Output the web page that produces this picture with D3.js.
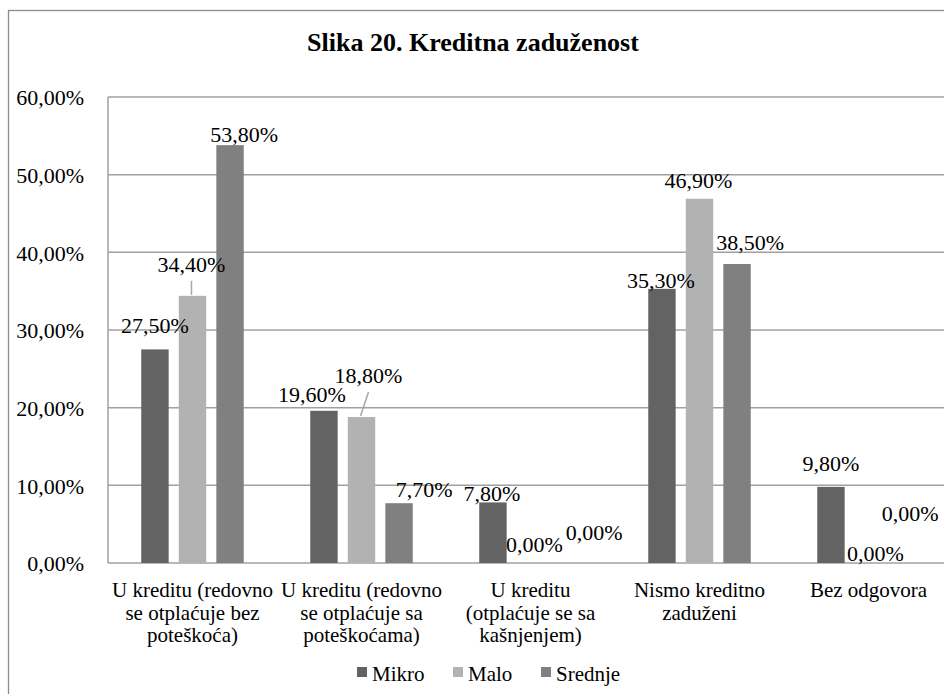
<!DOCTYPE html>
<html>
<head>
<meta charset="utf-8">
<script src="https://cdn.jsdelivr.net/npm/d3@7/dist/d3.min.js"></script>
<style>
  body { margin: 0; background: #fff; }
  svg { display: block; font-family: "Liberation Serif", "Times New Roman", serif; }
</style>
</head>
<body>
<svg id="chart" width="944" height="694"></svg>
<script>
// data
var categories = [
	["U kreditu (redovno", "se otplaćuje bez", "poteškoća)"],
	["U kreditu (redovno", "se otplaćuje sa", "poteškoćama)"],
	["U kreditu", "(otplaćuje se sa", "kašnjenjem)"],
	["Nismo kreditno", "zaduženi"],
	["Bez odgovora"]
];
var series = ["Mikro", "Malo", "Srednje"];
var mikro = [27.5, 19.6, 7.8, 35.3, 9.8];
var malo = [34.4, 18.8, 0.0, 46.9, 0.0];
var srednje = [53.8, 7.7, 0.0, 38.5, 0.0];
var yTicks = [0, 10, 20, 30, 40, 50, 60];

var values = [mikro, malo, srednje];
var colors = ["#636363", "#b2b2b2", "#808080"];

// label nudges (the labels were dragged by hand in the original)
var labelDx = [
	[0, -12, -1, -1, 0],
	[-1, 7, 4, -1, 7],
	[14, 25, 26, 13, 4]
];
var labelDy = [
	[-16, -9, -1, -1, -16],
	[-24, -34, -11, -11, -2],
	[-3, -6, -23, -14, -42]
];
var leader = [
	[false, false, false, false, false],
	[true, true, false, false, false],
	[false, false, false, false, false]
];

var svg = d3.select('#chart');
var plotLeft = 108, plotTop = 97, plotBottom = 563, step = 169;

var x0 = d3.scaleBand()
	.domain(d3.range(categories.length))
	.range([plotLeft, plotLeft + step * categories.length]);
var x1 = d3.scaleBand()
	.domain(d3.range(series.length))
	.range([-51.25, 51.25])
	.paddingInner(0.27);
var y = d3.scaleLinear().domain([0, 60]).range([plotBottom, plotTop]);

function fmt(v){ return v.toFixed(2).replace('.', ',') + '%'; }

// outer border
svg.append('rect')
	.attr('x', 8.5).attr('y', 10.5)
	.attr('width', 960).attr('height', 700)
	.attr('fill', 'none')
	.attr('stroke', '#8c8c8c')
	.attr('stroke-width', 1.3);

// title
svg.append('text')
	.attr('x', 473).attr('y', 51)
	.attr('text-anchor', 'middle')
	.attr('font-size', 26)
	.attr('font-weight', 'bold')
	.text('Slika 20. Kreditna zaduženost');

// gridlines
svg.append('g')
	.selectAll('line')
	.data(yTicks)
	.enter()
	.append('line')
	.attr('x1', plotLeft).attr('x2', 960)
	.attr('y1', function(d){ return y(d); })
	.attr('y2', function(d){ return y(d); })
	.attr('stroke', '#a0a0a0')
	.attr('stroke-width', 1.5);

// plot area left border
svg.append('line')
	.attr('x1', plotLeft).attr('x2', plotLeft)
	.attr('y1', plotTop).attr('y2', plotBottom)
	.attr('stroke', '#a0a0a0')
	.attr('stroke-width', 1.5);

// y axis labels
var yAxis = d3.axisLeft(y)
	.tickValues(yTicks)
	.tickSize(0)
	.tickPadding(24)
	.tickFormat(fmt);
var ya = svg.append('g')
	.attr('transform', 'translate(' + plotLeft + ',0)')
	.call(yAxis);
ya.select('.domain').remove();
ya.selectAll('text')
	.attr('font-family', '"Liberation Serif", "Times New Roman", serif')
	.attr('font-size', 22)
	.attr('fill', '#000')
	.attr('dy', '0.36em');

// bars
var groups = svg.append('g')
	.selectAll('g')
	.data(series)
	.enter()
	.append('g')
	.attr('fill', function(d, s){ return colors[s]; });

groups.selectAll('rect')
	.data(function(d, s){ return values[s].map(function(v, i){ return {s: s, i: i, v: v}; }); })
	.enter()
	.append('rect')
	.attr('x', function(d){ return x0(d.i) + x0.bandwidth() / 2 + x1(d.s); })
	.attr('y', function(d){ return y(d.v); })
	.attr('width', x1.bandwidth())
	.attr('height', function(d){ return y(0) - y(d.v); });

// labels
var all = [];
values.forEach(function(arr, s){
	arr.forEach(function(v, i){ all.push({s: s, i: i, v: v}); });
});
function cx(d){ return x0(d.i) + x0.bandwidth() / 2 + x1(d.s) + x1.bandwidth() / 2; }

svg.append('g')
	.selectAll('line')
	.data(all.filter(function(d){ return leader[d.s][d.i]; }))
	.enter()
	.append('line')
	.attr('x1', function(d){ return cx(d) - 1; })
	.attr('y1', function(d){ return y(d.v) - 1; })
	.attr('x2', function(d){ return cx(d) + labelDx[d.s][d.i]; })
	.attr('y2', function(d){ return y(d.v) + labelDy[d.s][d.i] + 9; })
	.attr('stroke', '#a6a6a6')
	.attr('stroke-width', 1.5);

svg.append('g')
	.selectAll('text')
	.data(all)
	.enter()
	.append('text')
	.attr('x', function(d){ return cx(d) + labelDx[d.s][d.i]; })
	.attr('y', function(d){ return y(d.v) + labelDy[d.s][d.i]; })
	.attr('text-anchor', 'middle')
	.attr('font-size', 22)
	.text(function(d){ return fmt(d.v); });

// category labels
svg.append('g')
	.selectAll('text')
	.data(categories)
	.enter()
	.append('text')
	.attr('text-anchor', 'middle')
	.attr('font-size', 21)
	.attr('x', function(d, i){ return x0(i) + x0.bandwidth() / 2; })
	.attr('y', 597)
	.selectAll('tspan')
	.data(function(d){ return d; })
	.enter()
	.append('tspan')
	.attr('x', function(){ return d3.select(this.parentNode).attr('x'); })
	.attr('dy', function(d, k){ return k === 0 ? 0 : 22.5; })
	.text(function(d){ return d; });

// legend
var legendX = [357, 453, 541];
var leg = svg.append('g')
	.selectAll('g')
	.data(series)
	.enter()
	.append('g')
	.attr('transform', function(d, s){ return 'translate(' + legendX[s] + ',667)'; });
leg.append('rect')
	.attr('width', 10).attr('height', 10)
	.attr('fill', function(d, s){ return colors[s]; });
leg.append('text')
	.attr('x', 15).attr('y', 14)
	.attr('font-size', 21)
	.text(function(d){ return d; });
</script>
</body>
</html>
